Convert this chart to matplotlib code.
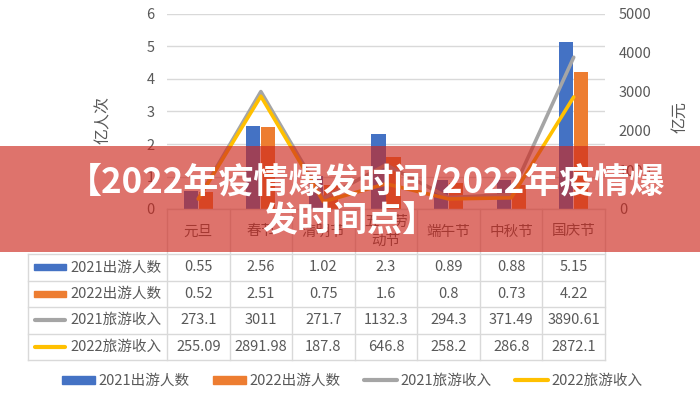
import matplotlib
matplotlib.use('Agg')
import matplotlib.pyplot as plt
from matplotlib.patches import Rectangle
from matplotlib.lines import Line2D
import numpy as np

plt.rcParams['font.family'] = ['Noto Sans CJK SC', 'DejaVu Sans']

# data
categories = ['元旦', '春节', '清明节', '五一劳\n动节', '端午节', '中秋节', '国庆节']
trips_2021 = [0.55, 2.56, 1.02, 2.3, 0.89, 0.88, 5.15]
trips_2022 = [0.52, 2.51, 0.75, 1.6, 0.8, 0.73, 4.22]
income_2021 = [273.1, 3011, 271.7, 1132.3, 294.3, 371.49, 3890.61]
income_2022 = [255.09, 2891.98, 187.8, 646.8, 258.2, 286.8, 2872.1]
series_names = ['2021出游人数', '2022出游人数', '2021旅游收入', '2022旅游收入']
title_lines = ['【2022年疫情爆发时间/2022年疫情爆', '发时间点】']

colors = ['#4472C4', '#ED7D31', '#A5A5A5', '#FFC000']
grey_txt = '#595959'
grid_col = '#D9D9D9'

W, H = 700, 400
fig = plt.figure(figsize=(7, 4), dpi=100)


def fx(px):
    return px / W


def fy(py):
    return 1 - py / H


# plot area (pixels)
L, R, T, B = 167, 605, 14, 209
ax = fig.add_axes([fx(L), fy(B), (R - L) / W, (B - T) / H])
ax2 = ax.twinx()

x = np.arange(len(categories))
bw = 0.225
ax.bar(x - 0.12, trips_2021, bw, color=colors[0], zorder=2)
ax.bar(x + 0.12, trips_2022, bw, color=colors[1], zorder=2)
ax.set_xlim(-0.5, len(categories) - 0.5)
ax.set_ylim(0, 6)
ax.set_yticks(range(7))
ax.grid(axis='y', color=grid_col, lw=1)
ax.set_axisbelow(True)
ax.set_xticks([])

ax2.plot(x, income_2021, color=colors[2], lw=2.6, solid_capstyle='round', solid_joinstyle='round')
ax2.plot(x, income_2022, color=colors[3], lw=2.6, solid_capstyle='round', solid_joinstyle='round')
ax2.set_ylim(0, 5000)
ax2.set_yticks(range(0, 5001, 1000))

for a in (ax, ax2):
    for s in a.spines.values():
        s.set_visible(False)
    a.tick_params(length=0, labelsize=10.5, labelcolor=grey_txt)
ax.tick_params(axis='y', pad=9)
ax2.tick_params(axis='y', pad=10)

fig.text(fx(103), fy(120), '亿人次', rotation=90, ha='center', va='center',
         fontsize=11.5, color=grey_txt)
fig.text(fx(680), fy(117), '亿元', rotation=90, ha='center', va='center',
         fontsize=11.5, color=grey_txt)

# data table below the plot
tax = fig.add_axes([0, 0, 1, 1])
tax.set_xlim(0, W)
tax.set_ylim(H, 0)
tax.set_axis_off()

col_w = (R - L) / len(categories)
edges = L + col_w * np.arange(len(categories) + 1)
rows = [B, 254, 280.5, 307, 333.5, 360]
tleft = 28

tax.plot([L, R], [rows[0], rows[0]], color=grid_col, lw=1)
for yy in rows[1:]:
    tax.plot([tleft, R], [yy, yy], color=grid_col, lw=1)
for xx in edges:
    tax.plot([xx, xx], [rows[0], rows[-1]], color=grid_col, lw=1)
tax.plot([tleft, tleft], [rows[1], rows[-1]], color=grid_col, lw=1)

for i, c in enumerate(categories):
    tax.text((edges[i] + edges[i + 1]) / 2, (rows[0] + rows[1]) / 2, c,
             ha='center', va='center', fontsize=10.5, color=grey_txt, linespacing=1.5)

table_vals = [trips_2021, trips_2022, income_2021, income_2022]
for r, (name, vals) in enumerate(zip(series_names, table_vals)):
    yc = (rows[r + 1] + rows[r + 2]) / 2
    if r < 2:
        tax.add_patch(Rectangle((34, yc - 3), 32, 6, color=colors[r]))
    else:
        tax.plot([35, 65], [yc, yc], color=colors[r], lw=3, solid_capstyle='round')
    tax.text(70, yc, name, ha='left', va='center', fontsize=10.5, color=grey_txt)
    for i, v in enumerate(vals):
        tax.text((edges[i] + edges[i + 1]) / 2, yc, f'{v:g}',
                 ha='center', va='center', fontsize=10.5, color=grey_txt)

# legend
handles = [
    Rectangle((0, 0), 1, 1, color=colors[0]),
    Rectangle((0, 0), 1, 1, color=colors[1]),
    Line2D([], [], color=colors[2], lw=3, solid_capstyle='round'),
    Line2D([], [], color=colors[3], lw=3, solid_capstyle='round'),
]
leg = fig.legend(handles, series_names, loc='center', bbox_to_anchor=(fx(352), fy(381)),
                 ncol=4, frameon=False, fontsize=10.5, handlelength=2.3,
                 handleheight=0.45, handletextpad=0.2, columnspacing=1.6)
for t in leg.get_texts():
    t.set_color(grey_txt)

# red banner overlay with title
banner = Rectangle((0, fy(252)), 1, (252 - 146) / H, transform=fig.transFigure,
                   color=(205 / 255, 40 / 255, 30 / 255), alpha=0.65, zorder=10, lw=0)
fig.add_artist(banner)
fig.text(fx(366), fy(181), title_lines[0], ha='center', va='center', fontsize=25.2,
         fontweight='bold', color='white', zorder=11)
fig.text(fx(350), fy(221), title_lines[1], ha='center', va='center', fontsize=25.2,
         fontweight='bold', color='white', zorder=11)

fig.savefig('out.png', dpi=100, facecolor='white')
